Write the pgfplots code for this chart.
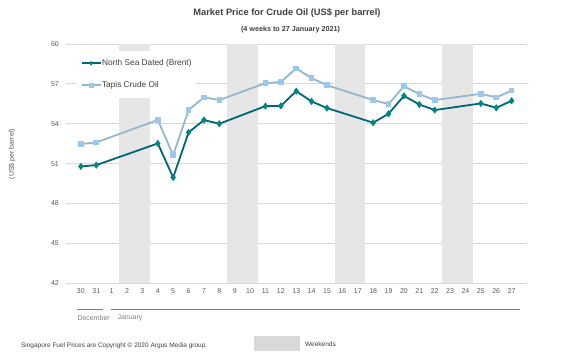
\documentclass[border=0pt]{standalone}
\usepackage{fontspec}
\setmainfont{Liberation Sans}
\usepackage{pgfplots}
\pgfplotsset{compat=1.18}
\definecolor{brent}{HTML}{00667A}
\definecolor{brentm}{HTML}{00857F}
\definecolor{tapis}{HTML}{93B8CB}
\definecolor{tapism}{HTML}{9DC8EE}
\definecolor{wkd}{HTML}{E6E6E6}
\definecolor{gridc}{HTML}{D9D9D9}
\definecolor{ticktxt}{HTML}{595959}
\definecolor{titletxt}{HTML}{404040}
\definecolor{monthline}{HTML}{7F7F7F}
\begin{document}
\begin{tikzpicture}
\useasboundingbox (0,0) rectangle (575bp,361bp);
\begin{axis}[
  at={(65.5bp,77.7bp)}, anchor=south west,
  scale only axis, width=461.5bp, height=239.3bp,
  xmin=-1, xmax=29, ymin=42, ymax=60,
  xtick={0,...,28},
  xticklabels={30,31,1,2,3,4,5,6,7,8,9,10,11,12,13,14,15,16,17,18,19,20,21,22,23,24,25,26,27},
  ytick={42,45,...,60},
  ymajorgrids, grid style={gridc, line width=0.8bp},
  axis line style={draw=none},
  major tick length=0pt,
  /pgf/number format/assume math mode=true,
  tick label style={font=\fontsize{7bp}{8bp}\selectfont, text=ticktxt, inner sep=0pt},
  yticklabel style={xshift=-6.5bp},
  xticklabel style={yshift=-5.2bp},
  legend style={at={(0.025,0.971)}, anchor=north west, fill=white, draw=none,
    inner xsep=3.5bp, inner ysep=8bp, row sep=13.5bp,
    font=\fontsize{8.3bp}{10bp}\selectfont, text=titletxt,
    nodes={inner sep=0.5bp, text depth=0.15em}},
  legend cell align=left,
  legend image code/.code={
    \draw[#1, mark=none] (0bp,0bp) -- (19bp,0bp);
    \draw[#1, only marks, mark size=2bp] plot coordinates {(9.5bp,0bp)};
  },
]
\fill[wkd] (axis cs:2.5,42) rectangle (axis cs:4.5,60);
\fill[wkd] (axis cs:9.5,42) rectangle (axis cs:11.5,60);
\fill[wkd] (axis cs:16.5,42) rectangle (axis cs:18.5,60);
\fill[wkd] (axis cs:23.5,42) rectangle (axis cs:25.5,60);

\addplot[color=brent, line width=1.8bp, mark=diamond*, mark size=3.2bp,
  mark options={fill=brentm, draw=brentm, line width=0.5bp}]
  coordinates {
  (0,50.79) (1,50.89) (5,52.52) (6,49.96) (7,53.35) (8,54.28) (9,54.00)
  (12,55.33) (13,55.35) (14,56.45) (15,55.68) (16,55.18)
  (19,54.08) (20,54.75) (21,56.10) (22,55.45) (23,55.03)
  (26,55.53) (27,55.20) (28,55.73)
  };
\addlegendentry{North Sea Dated (Brent)}

\addplot[color=tapis, line width=1.8bp, mark=square*, mark size=2.3bp,
  mark options={fill=tapism, draw=tapism, line width=0pt}]
  coordinates {
  (0,52.47) (1,52.60) (5,54.28) (6,51.64) (7,55.03) (8,55.99) (9,55.78)
  (12,57.06) (13,57.14) (14,58.17) (15,57.43) (16,56.90)
  (19,55.78) (20,55.48) (21,56.83) (22,56.23) (23,55.78)
  (26,56.25) (27,55.98) (28,56.50)
  };
\addlegendentry{Tapis Crude Oil}
\end{axis}

\node[font=\bfseries\fontsize{9.3bp}{11bp}\selectfont, text=titletxt] at (287bp,347.7bp)
  {Market Price for Crude Oil (US\$ per barrel)};
\node[font=\bfseries\fontsize{7.2bp}{9bp}\selectfont, text=titletxt] at (290.5bp,331bp)
  {(4 weeks to 27 January 2021)};
\node[rotate=90, font=\fontsize{7bp}{8bp}\selectfont, text=ticktxt] at (12bp,207bp)
  {(US\$ per barrel)};

\draw[monthline, line width=1bp] (77.3bp,51bp) -- (103.3bp,51bp);
\draw[monthline, line width=1bp] (110.7bp,51bp) -- (520bp,51bp);
\node[anchor=west, inner sep=0pt, font=\fontsize{7bp}{8bp}\selectfont, text=monthline] at (77.3bp,43.3bp) {December};
\node[anchor=west, inner sep=0pt, font=\fontsize{7bp}{8bp}\selectfont, text=monthline] at (117.3bp,43.3bp) {January};

\node[anchor=west, inner sep=0pt, font=\fontsize{6.5bp}{8bp}\selectfont, text=titletxt] at (20.9bp,15bp)
  {Singapore Fuel Prices are Copyright © 2020 Argus Media group.};
\fill[gridc] (254bp,10bp) rectangle (300bp,25bp);
\node[anchor=west, inner sep=0pt, font=\fontsize{6.5bp}{8bp}\selectfont, text=titletxt] at (305bp,17.3bp) {Weekends};
\end{tikzpicture}
\end{document}
